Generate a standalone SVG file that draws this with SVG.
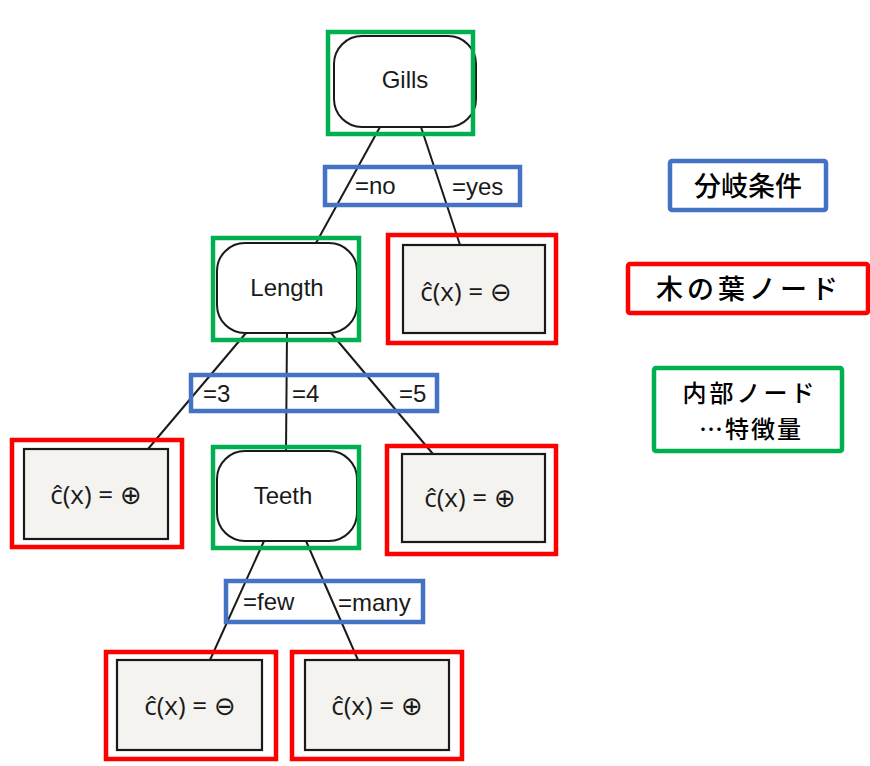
<svg xmlns="http://www.w3.org/2000/svg" width="870" height="766" viewBox="0 0 870 766">
<style>
.inner{fill:#fff;stroke:#1a1a1a;stroke-width:2}
.leaf{fill:#f4f3f0;stroke:#1a1a1a;stroke-width:2.2}
.g{fill:none;stroke:#00b050;stroke-width:4.5}
.r{fill:none;stroke:#ff0000;stroke-width:4.5}
.b{fill:none;stroke:#4472c4;stroke-width:4.5}
.t{font-family:"Liberation Sans",Arial,sans-serif;font-size:24px;fill:#1a1a1a;text-anchor:middle}
.c{font-family:"Open Sans","DejaVu Sans",sans-serif;font-size:26px;fill:#1a1a1a;text-anchor:middle}
.l{font-family:"Liberation Sans",Arial,sans-serif;font-size:24px;fill:#1a1a1a}
.j{font-family:"Noto Sans CJK JP",sans-serif;font-size:27px;font-weight:500;fill:#000;text-anchor:middle}
.k{font-family:"Noto Sans CJK JP",sans-serif;font-size:24px;font-weight:500;fill:#000;text-anchor:middle}
.e{stroke:#1a1a1a;stroke-width:2;fill:none}
</style>
<rect width="870" height="766" fill="#fff"/>
<g id="connectors">
<line class="e" x1="380" y1="127" x2="316" y2="243"/>
<line class="e" x1="421" y1="127" x2="460" y2="245"/>
<line class="e" x1="246" y1="333" x2="148" y2="449"/>
<line class="e" x1="287" y1="333" x2="286" y2="451"/>
<line class="e" x1="331" y1="333" x2="433" y2="454"/>
<line class="e" x1="264" y1="541" x2="210" y2="660"/>
<line class="e" x1="306" y1="541" x2="358" y2="660"/>
</g>
<g id="gills">
<rect class="inner" x="334" y="36" width="142" height="91" rx="28"/>
<text class="t" x="405" y="88">Gills</text>
<rect class="g" x="328" y="32" width="145" height="102"/>
</g>
<g id="length">
<rect class="inner" x="217" y="243" width="140" height="90" rx="28"/>
<text class="t" x="287" y="296">Length</text>
<rect class="g" x="213" y="238" width="146" height="102"/>
</g>
<g id="teeth">
<rect class="inner" x="217" y="451" width="140" height="90" rx="28"/>
<text class="t" x="283" y="504">Teeth</text>
<rect class="g" x="213" y="447" width="146" height="101"/>
</g>
<g id="leaf-yes">
<rect class="leaf" x="403" y="245" width="142" height="88"/>
<text class="c" x="466" y="301">ĉ(x) = ⊖</text>
<rect class="r" x="388" y="235" width="168" height="108"/>
</g>
<g id="leaf-3">
<rect class="leaf" x="24" y="449" width="144" height="90"/>
<text class="c" x="96" y="504">ĉ(x) = ⊕</text>
<rect class="r" x="12" y="440" width="170" height="107"/>
</g>
<g id="leaf-5">
<rect class="leaf" x="402" y="454" width="143" height="88"/>
<text class="c" x="470" y="507">ĉ(x) = ⊕</text>
<rect class="r" x="387" y="446" width="169" height="108"/>
</g>
<g id="leaf-few">
<rect class="leaf" x="117" y="660" width="145" height="90"/>
<text class="c" x="190" y="715">ĉ(x) = ⊖</text>
<rect class="r" x="106" y="652" width="170" height="107"/>
</g>
<g id="leaf-many">
<rect class="leaf" x="305" y="660" width="144" height="90"/>
<text class="c" x="377" y="715">ĉ(x) = ⊕</text>
<rect class="r" x="292" y="652" width="170" height="107"/>
</g>
<g id="cond-gills">
<rect class="b" x="325" y="167" width="195" height="38"/>
<text class="l" x="355" y="194">=no</text>
<text class="l" x="452" y="195">=yes</text>
</g>
<g id="cond-length">
<rect class="b" x="191" y="375" width="246" height="36"/>
<text class="l" x="203" y="402">=3</text>
<text class="l" x="292" y="402">=4</text>
<text class="l" x="399" y="402">=5</text>
</g>
<g id="cond-teeth">
<rect class="b" x="226" y="581" width="197" height="41"/>
<text class="l" x="243" y="610">=few</text>
<text class="l" x="338" y="611">=many</text>
</g>
<g id="legend-cond">
<rect class="b" x="670" y="161" width="156" height="49" rx="2"/>
<text class="j" x="748" y="196">分岐条件</text>
</g>
<g id="legend-leaf">
<rect class="r" x="628" y="264" width="240" height="49" rx="2"/>
<text class="j" x="749" y="299" letter-spacing="4">木の葉ノード</text>
</g>
<g id="legend-internal">
<rect class="g" x="654" y="368" width="188" height="83" rx="2"/>
<text class="k" x="750" y="402" letter-spacing="3">内部ノード</text>
<text class="k" x="751" y="438" letter-spacing="2">…特徴量</text>
</g>
</svg>
